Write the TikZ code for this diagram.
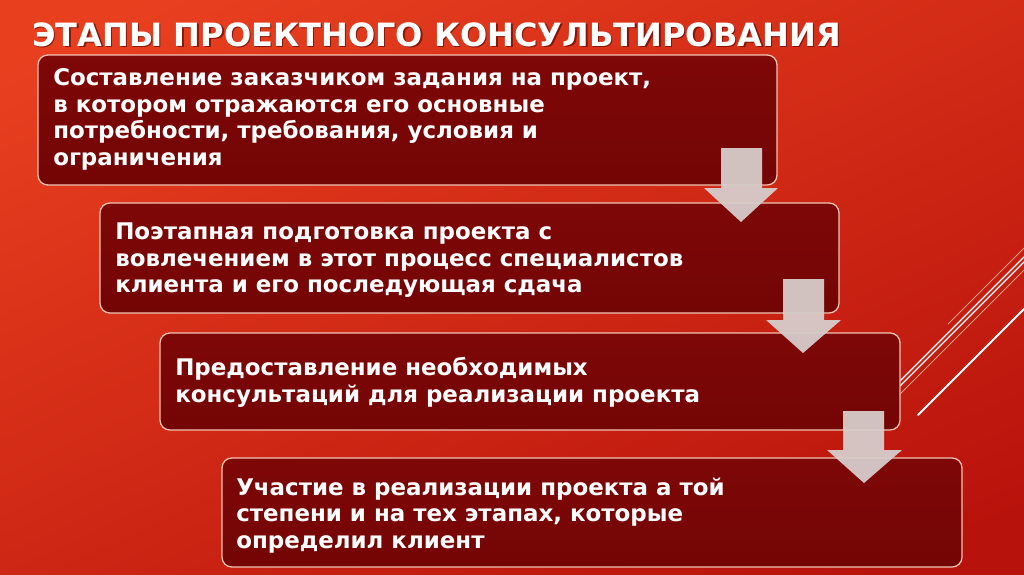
\documentclass[tikz,border=0pt]{standalone}
\usepackage{fontspec}
\setmainfont{DejaVu Sans}
\definecolor{bgtop}{HTML}{E8401F}
\definecolor{bgbot}{HTML}{B8120C}
\definecolor{boxfill}{HTML}{740505}
\definecolor{boxtop}{HTML}{7E0707}
\definecolor{boxline}{HTML}{F2C4B4}
\definecolor{arrowfill}{HTML}{D6CDCB}
\definecolor{lineA}{HTML}{F7B090}
\begin{document}
\begin{tikzpicture}[x=0.025cm,y=-0.025cm,
  stagebox/.style={draw=boxline, line width=0.9pt, rounded corners=7pt, top color=boxtop, bottom color=boxfill},
  stagetext/.style={anchor=north west, align=left, text=white, inner sep=0pt,
    font=\fontsize{16.3}{18.9}\selectfont\bfseries},
  downarrow/.style={fill=arrowfill, fill opacity=0.95, draw=none},
  deco/.style={draw=white, line cap=round}]
\useasboundingbox (0,0) rectangle (1024,574);
% background
\shade[top color=bgtop, bottom color=bgbot, shading angle=25] (-60,-60) rectangle (1084,634);
% decorative lines
\draw[deco, draw=lineA, line width=0.5pt] (948,324) -- (1030,242);
\draw[deco, line width=0.8pt] (900,381) -- (1030,251);
\draw[deco, line width=0.8pt] (900,386) -- (1030,256);
\draw[deco, draw=lineA, line width=0.5pt] (900,394) -- (1030,264);
\draw[deco, line width=1.4pt] (918,415) -- (1030,303);
% title
\node[anchor=south west, inner sep=0pt, text=black!70!red, opacity=0.6, font=\fontsize{22.8}{26}\selectfont\bfseries] (titleshadow) at (33.5,48.5) {ЭТАПЫ ПРОЕКТНОГО КОНСУЛЬТИРОВАНИЯ};
\node[anchor=south west, inner sep=0pt, text=white, font=\fontsize{22.8}{26}\selectfont\bfseries] (title) at (32,47) {ЭТАПЫ ПРОЕКТНОГО КОНСУЛЬТИРОВАНИЯ};
% boxes
\draw[stagebox] (38,55) rectangle (777,185);
\draw[stagebox] (100,203) rectangle (839,313);
\draw[stagebox] (160,333) rectangle (900,430);
\draw[stagebox] (222,458) rectangle (962,567);
% texts
\node[stagetext] (t1) at (53,68.5) {Составление заказчиком задания на проект,\\в котором отражаются его основные\\потребности, требования, условия и\\ограничения};
\node[stagetext] (t2) at (115,222.5) {Поэтапная подготовка проекта с\\вовлечением в этот процесс специалистов\\клиента и его последующая сдача};
\node[stagetext] (t3) at (175,357.5) {Предоставление необходимых\\консультаций для реализации проекта};
\node[stagetext] (t4) at (236,477.5) {Участие в реализации проекта а той\\степени и на тех этапах, которые\\определил клиент};
% arrows
\fill[downarrow] (721,148) -- (762,148) -- (762,188) -- (778,188) -- (741,222) -- (704,188) -- (721,188) -- cycle;
\fill[downarrow] (783,279) -- (824,279) -- (824,320) -- (841,320) -- (803,353) -- (766,320) -- (783,320) -- cycle;
\fill[downarrow] (843,411) -- (884,411) -- (884,450) -- (902,450) -- (864,483) -- (827,450) -- (843,450) -- cycle;
\end{tikzpicture}
\end{document}
